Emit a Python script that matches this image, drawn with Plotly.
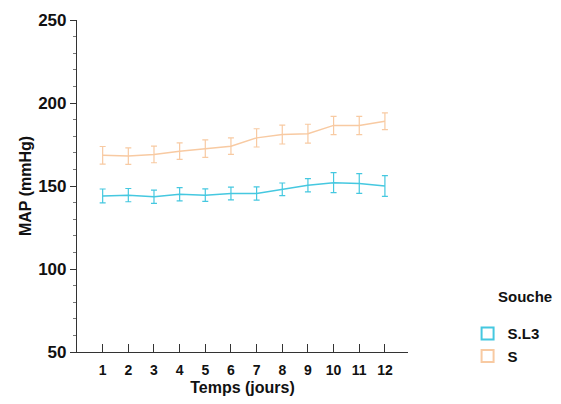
import plotly.graph_objects as go

days = list(range(1, 13))
sl3_mean = [144, 144.5, 143.5, 145, 144.5, 145.5, 145.5, 148, 150.5, 152, 151.5, 150]
sl3_err = [4.2, 4.0, 4.0, 4.0, 3.8, 3.8, 4.0, 3.8, 4.0, 6.0, 6.0, 6.3]
s_mean = [168.5, 168, 169, 171, 172.5, 174, 179, 181, 181.5, 186.5, 186.5, 189]
s_err = [5.3, 5.0, 5.0, 5.0, 5.3, 5.0, 5.5, 5.7, 5.7, 5.5, 5.5, 5.0]
series_names = ["S.L3", "S"]
colors = ["#45c8e0", "#f8caa2"]

fig = go.Figure()
for name, mean, err, col in [("S.L3", sl3_mean, sl3_err, colors[0]), ("S", s_mean, s_err, colors[1])]:
    fig.add_trace(go.Scatter(
        x=days, y=mean, mode="lines", name=name, showlegend=False,
        line=dict(color=col, width=1.5),
        error_y=dict(type="data", array=err, visible=True, color=col, thickness=1.2, width=3),
    ))
for name, col in zip(series_names, colors):
    fig.add_trace(go.Scatter(
        x=[None], y=[None], mode="markers", name=name,
        marker=dict(symbol="square-open", size=6, color=col, line=dict(width=1.5, color=col)),
    ))

bold = "bold"
fig.update_layout(
    width=561, height=404,
    margin=dict(l=77, r=153, t=20, b=52, autoexpand=False),
    plot_bgcolor="white", paper_bgcolor="white",
    font=dict(family="Liberation Sans, Arial, sans-serif", color="#111111"),
    legend=dict(
        x=1.18, y=0.105, xanchor="left", yanchor="top",
        font=dict(size=15, weight=bold), itemsizing="constant", tracegroupgap=0,
        itemwidth=30,
    ),
    annotations=[dict(
        text="Souche", x=1.353, y=0.166, xref="paper", yref="paper",
        xanchor="center", yanchor="middle", showarrow=False,
        font=dict(size=15, weight=bold),
    )],
)
fig.update_xaxes(
    range=[0, 12.9], tickmode="array", tickvals=days, ticktext=[str(d) for d in days],
    ticks="inside", ticklen=8, tickcolor="#333", showline=True, linecolor="#333", linewidth=1.2,
    showgrid=False, zeroline=False, tickfont=dict(size=14, weight=bold), ticklabelstandoff=5,
    title=dict(text="Temps (jours)", font=dict(size=16, weight=bold), standoff=4),
)
fig.update_yaxes(
    range=[50, 250], tickvals=[50, 100, 150, 200, 250], ticks="outside", ticklen=6,
    tickcolor="#333", showline=True, linecolor="#333", linewidth=1.2,
    minor=dict(dtick=10, ticks="outside", ticklen=3, tickcolor="#777"),
    showgrid=False, zeroline=False, tickfont=dict(size=17, weight=bold),
    title=dict(text="MAP (mmHg)", font=dict(size=16, weight=bold), standoff=2),
)
fig.write_html("out.html")
